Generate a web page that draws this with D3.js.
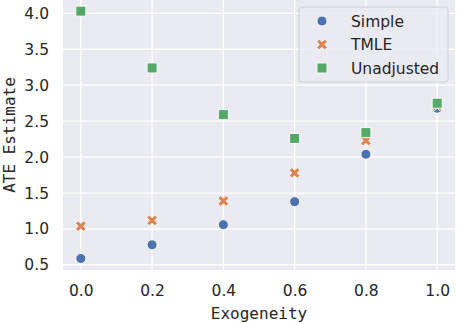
<!DOCTYPE html>
<html>
<head>
<meta charset="utf-8">
<script src="https://cdn.jsdelivr.net/npm/d3@7"></script>
<style>
  body { margin: 0; background: #fff; }
  svg { display: block; }
</style>
</head>
<body>
<svg id="chart" width="458" height="324"></svg>
<script>
// data
const exogeneity = [0.0, 0.2, 0.4, 0.6, 0.8, 1.0];
const simple = [0.59, 0.78, 1.06, 1.38, 2.04, 2.68];
const tmle = [1.04, 1.12, 1.39, 1.78, 2.23, 2.72];
const unadjusted = [4.03, 3.24, 2.59, 2.26, 2.34, 2.75];
const seriesNames = ["Simple", "TMLE", "Unadjusted"];
const xTicks = [0.0, 0.2, 0.4, 0.6, 0.8, 1.0];
const yTicks = [0.5, 1.0, 1.5, 2.0, 2.5, 3.0, 3.5, 4.0];

const colors = { Simple: "#4c72b0", TMLE: "#dd8452", Unadjusted: "#55a868" };
const values = { Simple: simple, TMLE: tmle, Unadjusted: unadjusted };

const svg = d3.select("#chart");
const margin = { top: 0, right: 3, left: 63, bottom: 54 };
const width = 458 - margin.left - margin.right;
const height = 324 - margin.top - margin.bottom;

const x = d3.scaleLinear().domain([-0.05, 1.05]).range([0, width]);
const y = d3.scaleLinear().domain([0.43, 4.185]).range([height, 0]);

const g = svg.append("g")
  .attr("transform", "translate(" + margin.left + "," + margin.top + ")");

g.append("rect")
  .attr("width", width)
  .attr("height", height)
  .attr("fill", "#eaeaf2");

// grid
g.append("g").selectAll("line").data(xTicks).join("line")
  .attr("x1", d => x(d)).attr("x2", d => x(d))
  .attr("y1", 0).attr("y2", height)
  .attr("stroke", "#fff").attr("stroke-width", 1.3);
g.append("g").selectAll("line").data(yTicks).join("line")
  .attr("x1", 0).attr("x2", width)
  .attr("y1", d => y(d)).attr("y2", d => y(d))
  .attr("stroke", "#fff").attr("stroke-width", 1.3);

// axes
const xAxis = g.append("g")
  .attr("transform", "translate(0," + height + ")")
  .call(d3.axisBottom(x).tickValues(xTicks).tickFormat(d3.format(".1f")).tickSize(0).tickPadding(15));
const yAxis = g.append("g")
  .call(d3.axisLeft(y).tickValues(yTicks).tickFormat(d3.format(".1f")).tickSize(0).tickPadding(14));
[xAxis, yAxis].forEach(a => {
  a.select(".domain").remove();
  a.selectAll("text")
    .attr("fill", "#262626")
    .attr("font-family", "DejaVu Sans")
    .attr("font-size", "15.5px");
});

// axis labels
g.append("text")
  .attr("x", width / 2)
  .attr("y", height + 49)
  .attr("text-anchor", "middle")
  .attr("font-family", "DejaVu Sans Mono")
  .attr("font-size", "16px")
  .attr("fill", "#262626")
  .text("Exogeneity");

g.append("text")
  .attr("transform", "translate(" + (-48) + "," + (height / 2) + ") rotate(-90)")
  .attr("text-anchor", "middle")
  .attr("font-family", "DejaVu Sans Mono")
  .attr("font-size", "16px")
  .attr("fill", "#262626")
  .text("ATE Estimate");

// marker shapes
const xFilled = s => {
  const pts = [[-1, -3], [1, -3], [1, -1], [3, -1], [3, 1], [1, 1], [1, 3], [-1, 3], [-1, 1], [-3, 1], [-3, -1], [-1, -1]];
  const k = s / 6, c = Math.SQRT1_2;
  return "M" + pts.map(p => {
    const px = (p[0] * c - p[1] * c) * k, py = (p[0] * c + p[1] * c) * k;
    return px.toFixed(2) + "," + py.toFixed(2);
  }).join("L") + "Z";
};

function drawMarker(sel, name) {
  if (name === "Simple") {
    sel.append("circle").attr("r", 5);
  } else if (name === "TMLE") {
    sel.append("path").attr("d", xFilled(11.5));
  } else {
    sel.append("rect").attr("x", -5).attr("y", -5).attr("width", 10).attr("height", 10);
  }
  sel.selectAll("*")
    .attr("fill", colors[name])
    .attr("stroke", "#fff")
    .attr("stroke-width", 0.9);
}

seriesNames.forEach(name => {
  g.append("g").selectAll("g")
    .data(exogeneity.map((e, i) => ({ e, v: values[name][i] })))
    .join("g")
    .attr("transform", d => "translate(" + x(d.e) + "," + y(d.v) + ")")
    .each(function () { drawMarker(d3.select(this), name); });
});

// legend
const legend = svg.append("g").attr("transform", "translate(299,7)");
legend.append("rect")
  .attr("width", 149).attr("height", 75)
  .attr("rx", 3)
  .attr("fill", "#eaeaf2").attr("fill-opacity", 0.8)
  .attr("stroke", "#d0d0d6").attr("stroke-width", 1);
seriesNames.forEach((name, i) => {
  const row = legend.append("g").attr("transform", "translate(0," + (14 + i * 23.5) + ")");
  drawMarker(row.append("g").attr("transform", "translate(23,0)"), name);
  row.append("text")
    .attr("x", 52)
    .attr("dy", "0.36em")
    .attr("font-family", "DejaVu Sans")
    .attr("font-size", "15.5px")
    .attr("fill", "#262626")
    .text(name);
});
</script>
</body>
</html>
